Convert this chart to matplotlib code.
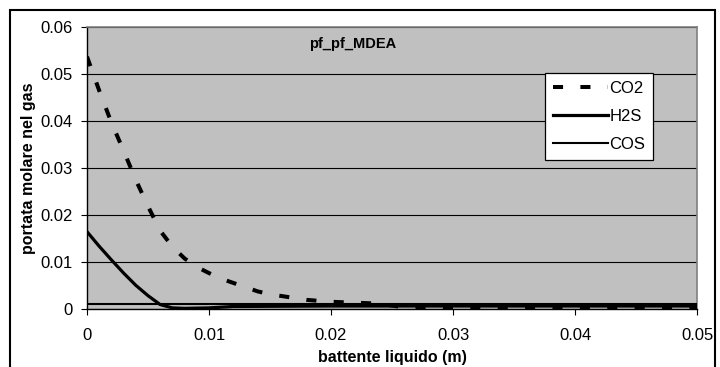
"""Profilo portata molare nel gas lungo il battente liquido (pf_pf_MDEA)."""
import matplotlib
matplotlib.use("Agg")
import matplotlib.pyplot as plt
from matplotlib.patches import Rectangle

plt.rcParams["font.family"] = ["Liberation Sans", "DejaVu Sans"]

# --- data ---
x_co2 = [0.0, 0.001, 0.002, 0.003, 0.004, 0.005, 0.006, 0.007, 0.008, 0.009,
         0.010, 0.011, 0.012, 0.013, 0.014, 0.015, 0.016, 0.017, 0.018, 0.019,
         0.020, 0.022, 0.024, 0.026, 0.030, 0.040, 0.050]
co2 = [0.0537, 0.0465, 0.0397, 0.0337, 0.0275, 0.0219, 0.0167, 0.0133, 0.0108, 0.0090,
       0.0077, 0.0065, 0.0056, 0.0047, 0.0038, 0.0032, 0.0028, 0.0024, 0.0020, 0.0018,
       0.0016, 0.0014, 0.0012, 0.0004, 0.0002, 0.0002, 0.0002]

x_h2s = [0.0, 0.001, 0.002, 0.003, 0.004, 0.005, 0.006, 0.007, 0.008, 0.010,
         0.012, 0.020, 0.030, 0.040, 0.050]
h2s = [0.0165, 0.0134, 0.0105, 0.0077, 0.0051, 0.0029, 0.0010, 0.0003, 0.0002, 0.0003,
       0.0006, 0.0007, 0.0007, 0.0007, 0.0007]

x_cos = [0.0, 0.050]
cos = [0.0012, 0.0012]

x_ticks = [0.0, 0.01, 0.02, 0.03, 0.04, 0.05]
x_tick_labels = ["0", "0.01", "0.02", "0.03", "0.04", "0.05"]
y_ticks = [0.0, 0.01, 0.02, 0.03, 0.04, 0.05, 0.06]
y_tick_labels = ["0", "0.01", "0.02", "0.03", "0.04", "0.05", "0.06"]

fig = plt.figure(figsize=(7.2, 3.67), dpi=100)
ax = fig.add_axes([87 / 720, 1 - 309.3 / 367, 610 / 720, 282.3 / 367])
ax.set_facecolor("#c0c0c0")

ax.plot(x_co2, co2, color="black", lw=2.9, linestyle=(0, (2.5, 4.3)),
        label="CO2", zorder=3)
ax.plot(x_h2s, h2s, color="black", lw=2.3, label="H2S", zorder=3)
ax.plot(x_cos, cos, color="black", lw=1.5, label="COS", zorder=3)

ax.set_xlim(0, 0.05)
ax.set_ylim(0, 0.06)
ax.set_xticks(x_ticks)
ax.set_xticklabels(x_tick_labels)
ax.set_yticks(y_ticks)
ax.set_yticklabels(y_tick_labels)
ax.tick_params(axis="both", direction="out", length=4.5, width=0.8,
               labelsize=12, color="black")
ax.tick_params(axis="x", pad=9)
ax.tick_params(axis="y", pad=6)

ax.yaxis.grid(True, color="black", lw=0.8)
ax.set_axisbelow(True)
for side in ("top", "right"):
    ax.spines[side].set_color("#808080")
    ax.spines[side].set_linewidth(1.2)
for side in ("left", "bottom"):
    ax.spines[side].set_color("black")
    ax.spines[side].set_linewidth(1.0)

ax.set_xlabel("battente liquido (m)", fontsize=11.5, fontweight="bold")
ax.set_ylabel("portata molare nel gas", fontsize=11.5, fontweight="bold")
ax.xaxis.set_label_coords(0.5, -0.145)
ax.yaxis.set_label_coords(-0.083, 0.5)

ax.text(0.435, 0.94, "pf_pf_MDEA", transform=ax.transAxes, fontsize=10.5,
        fontweight="bold", ha="center", va="center")

leg = ax.legend(loc="upper left", bbox_to_anchor=(0.751, 0.837), fontsize=12,
                frameon=True, fancybox=False, edgecolor="black", facecolor="white",
                framealpha=1, handlelength=3.3, handletextpad=0.1,
                labelspacing=0.8, borderpad=0.45, borderaxespad=0)
leg.get_frame().set_linewidth(0.9)

# outer chart border (bottom edge falls outside the picture)
fig.patches.append(Rectangle((9.5 / 720, -0.05), (715 - 9.5) / 720, 1.05 - 10 / 367,
                             transform=fig.transFigure, fill=False,
                             edgecolor="black", lw=1.5))

fig.savefig("out.png", dpi=100)
plt.close(fig)
